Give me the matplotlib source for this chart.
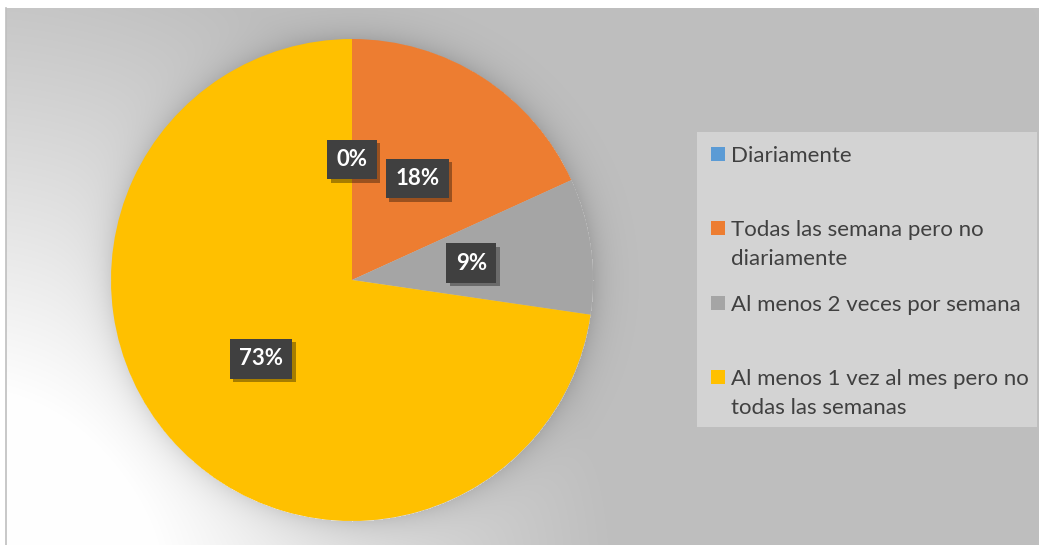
import numpy as np
import matplotlib
matplotlib.use("Agg")
import matplotlib.pyplot as plt
import matplotlib.patheffects as pe
from matplotlib.patches import Rectangle

# === DATA ===
categories = [
    "Diariamente",
    "Todas las semana pero no\ndiariamente",
    "Al menos 2 veces por semana",
    "Al menos 1 vez al mes pero no\ntodas las semanas",
]
shares = [0.0, 18.2, 9.1, 72.7]
colors = ["#5B9BD5", "#ED7D31", "#A5A5A5", "#FFC000"]

# === LAYOUT (pixels, image coords from top) ===
W, H = 1039, 545
PIE_CX, PIE_CY, PIE_R = 352, 280, 241
PANEL_X0, PANEL_Y0 = 6, 8

plt.rcParams["font.family"] = ["Lato", "DejaVu Sans"]

fig = plt.figure(figsize=(W / 100, H / 100), dpi=100)
ax = fig.add_axes([0, 0, 1, 1])

# --- background panel: grey with white glow bottom-left and soft pie halo ---
ys, xs = np.mgrid[PANEL_Y0:H, PANEL_X0:W].astype(float)
d = np.hypot(xs + 50, ys - 600)
bg = 191 + 64 * np.clip((660 - d) / 450, 0, 1) ** 1.1
de = np.hypot(xs - PIE_CX, ys - PIE_CY) - PIE_R
bg -= np.where(de > 0, 26 * np.exp(-np.clip(de, 0, None) / 14), 0)
bg = np.clip(bg, 0, 255) / 255
ax.imshow(np.dstack([bg, bg, bg]), extent=(PANEL_X0, W, 0, H - PANEL_Y0),
          origin="upper", interpolation="bilinear", zorder=0)
ax.plot([PANEL_X0, PANEL_X0], [0, H - PANEL_Y0], color="#BFBFBF", lw=1.2, zorder=1)

# --- pie ---
wedges, _, autotexts = ax.pie(
    shares,
    colors=colors,
    startangle=90,
    counterclock=False,
    center=(PIE_CX, H - PIE_CY),
    radius=PIE_R,
    autopct="%.0f%%",
    pctdistance=0.5,
    frame=True,
    textprops=dict(color="white", fontsize=16, fontweight="bold"),
    wedgeprops=dict(linewidth=0),
)
for w in wedges:
    w.set_zorder(2)
for t in autotexts:
    t.set_zorder(5)
    t.set_bbox(dict(boxstyle="square,pad=0.42", facecolor="#404040", edgecolor="none"))
    t.get_bbox_patch().set_path_effects(
        [pe.withSimplePatchShadow(offset=(2.5, -2.5), shadow_rgbFace="black", alpha=0.35)]
    )
ax.set_xlim(0, W)
ax.set_ylim(0, H)
ax.set_aspect("equal")
ax.axis("off")

# --- legend ---
LEG_X0, LEG_X1, LEG_Y0, LEG_Y1 = 697, 1037, 132, 427
ax.add_patch(Rectangle((LEG_X0, H - LEG_Y1), LEG_X1 - LEG_X0, LEG_Y1 - LEG_Y0,
                       facecolor="#D3D3D3", edgecolor="none", zorder=3))
first_baseline = 162
step = 74.3
line_gap = 29
for i, (label, col) in enumerate(zip(categories, colors)):
    base = first_baseline + i * step
    ax.add_patch(Rectangle((711, H - base + 1), 14, 14, facecolor=col,
                           edgecolor="none", zorder=4))
    for j, line in enumerate(label.split("\n")):
        ax.text(731, H - base - j * line_gap, line, fontsize=16, color="#404040",
                va="baseline", ha="left", zorder=4)

fig.savefig("out.png", dpi=100, facecolor="white")
